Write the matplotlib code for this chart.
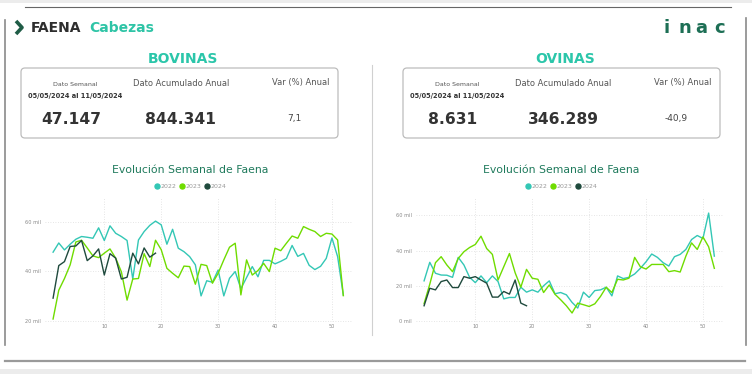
import numpy as np
import matplotlib
matplotlib.use("Agg")
import matplotlib.pyplot as plt
from matplotlib.lines import Line2D
from matplotlib.patches import FancyBboxPatch, Rectangle

# weekly slaughter (thousands of heads)
bov_2022 = [47.7, 51.4, 48.6, 50.9, 52.9, 54.0, 53.7, 53.3, 57.5, 52.4, 58.3, 55.3, 54.0,
            52.4, 36.9, 52.6, 56.0, 58.5, 60.2, 58.7, 50.9, 56.9, 49.3, 47.9, 45.9, 42.6,
            30.1, 36.2, 35.6, 40.5, 30.1, 37.2, 39.9, 33.0, 37.5, 41.9, 37.8, 44.4, 44.4,
            43.0, 44.0, 45.2, 50.4, 46.0, 47.2, 42.4, 40.7, 42.0, 45.2, 53.4, 45.9, 30.4]
bov_2023 = [20.8, 32.4, 37.1, 42.6, 51.8, 52.5, 49.4, 46.2, 45.5, 47.3, 49.0, 45.3, 39.8,
            28.4, 36.9, 37.1, 47.1, 41.9, 52.5, 48.7, 41.2, 39.2, 37.4, 42.1, 41.9, 34.8,
            42.8, 42.3, 35.2, 39.2, 44.6, 49.7, 51.3, 30.5, 44.6, 38.5, 40.3, 43.2, 39.9,
            49.3, 48.3, 51.3, 54.2, 53.3, 58.0, 56.9, 56.0, 54.0, 55.3, 55.0, 52.6, 30.2]
bov_2024 = [29.2, 42.3, 43.9, 50.0, 50.2, 52.4, 44.3, 46.2, 49.0, 38.5, 47.1, 45.3, 36.9,
            37.6, 47.3, 43.0, 49.4, 45.7, 47.3]

ovi_2022 = [22.9, 33.4, 27.2, 26.2, 26.1, 24.9, 36.2, 31.9, 24.9, 21.9, 25.7, 21.9, 25.7,
            22.5, 12.7, 13.5, 13.5, 19.3, 16.5, 17.8, 16.5, 20.1, 22.9, 15.6, 16.3, 15.0,
            10.7, 7.5, 16.5, 13.5, 17.4, 17.8, 19.3, 14.4, 25.7, 24.2, 24.9, 26.8, 30.0,
            33.7, 38.1, 36.2, 33.2, 31.3, 36.6, 37.9, 40.7, 46.3, 48.6, 46.9, 61.3, 36.9]
ovi_2023 = [10.0, 21.0, 33.2, 36.6, 31.9, 28.1, 35.6, 39.4, 41.8, 43.5, 48.2, 41.2, 37.9,
            23.4, 30.9, 38.4, 27.5, 19.3, 29.4, 24.4, 23.8, 16.3, 20.6, 15.3, 12.2, 8.8,
            4.7, 10.3, 9.4, 8.4, 9.9, 14.1, 19.3, 16.3, 23.8, 23.4, 24.4, 36.2, 30.9,
            29.6, 32.2, 32.2, 32.2, 28.1, 28.7, 27.9, 36.9, 44.4, 40.7, 47.8, 42.2, 30.0]
ovi_2024 = [8.8, 18.7, 17.8, 22.5, 23.4, 19.1, 19.1, 25.3, 24.4, 25.3, 23.4, 21.6, 13.7,
            13.7, 16.9, 15.4, 23.4, 10.3, 8.8]

years = ["2022", "2023", "2024"]
colors = ["#33c7b5", "#6fdc00", "#1f4a3d"]

kpi_bov = ["47.147", "844.341", "7,1"]
kpi_ovi = ["8.631", "346.289", "-40,9"]
periodo = "05/05/2024 al 11/05/2024"

W, H = 752, 374
fig = plt.figure(figsize=(W / 100, H / 100), dpi=100)

# background canvas in pixel coords
bg = fig.add_axes([0, 0, 1, 1])
bg.set_xlim(0, W)
bg.set_ylim(H, 0)
bg.axis("off")

bg.add_patch(Rectangle((0, 0), W, 3, color="#ececec", lw=0))
bg.add_patch(Rectangle((0, 369), W, 5, color="#ececec", lw=0))
bg.plot([25, 731], [7, 7], color="#666666", lw=0.8)
bg.plot([5, 5], [20, 345], color="#8a8a8a", lw=1.2)
bg.plot([746, 746], [18, 345], color="#8a8a8a", lw=1.2)
bg.plot([372, 372], [65, 335], color="#d0d0d0", lw=0.8)
bg.plot([5, 745], [361, 361], color="#9a9a9a", lw=1.6)

# header
bg.plot([16, 22, 16], [21, 27.5, 34], color="#1f5c46", lw=2.6, solid_capstyle="butt")
fig.text(31 / W, 1 - 27.5 / H, "FAENA", fontsize=10, fontweight="bold",
         color="#2e2e2e", va="center", ha="left")
fig.text(89 / W, 1 - 27.5 / H, "Cabezas", fontsize=10, fontweight="bold",
         color="#2ec4a6", va="center", ha="left")
for ch, xc in zip("inac", [667, 684.5, 701, 719.5]):
    fig.text(xc / W, 1 - 28 / H, ch, fontsize=13, fontweight="bold",
             color="#1d6f55", ha="center", va="center")


def kpi_block(x0, cx, name, vals):
    fig.text(cx / W, 1 - 59 / H, name, fontsize=10, fontweight="bold",
             color="#2bc6aa", ha="center", va="center")
    bg.add_patch(FancyBboxPatch((x0, 68), 317, 70, boxstyle="round,pad=0,rounding_size=4",
                                fc="white", ec="#bdbdbd", lw=0.9))
    c1, c2, c3 = x0 + 54, x0 + 160, x0 + 280
    fig.text(c1 / W, 1 - 84 / H, "Dato Semanal", fontsize=4.5, color="#555555",
             ha="center", va="center")
    fig.text(c1 / W, 1 - 96 / H, periodo, fontsize=4.8, fontweight="bold",
             color="#333333", ha="center", va="center")
    fig.text(c2 / W, 1 - 83 / H, "Dato Acumulado Anual", fontsize=6,
             color="#555555", ha="center", va="center")
    fig.text(c3 / W, 1 - 83 / H, "Var (%) Anual", fontsize=6,
             color="#555555", ha="center", va="center")
    fig.text((c1 - 4) / W, 1 - 120 / H, vals[0], fontsize=11.2, fontweight="bold",
             color="#333333", ha="center", va="center")
    fig.text(c2 / W, 1 - 120 / H, vals[1], fontsize=11.2, fontweight="bold",
             color="#333333", ha="center", va="center")
    fig.text((c3 - 7) / W, 1 - 118 / H, vals[2], fontsize=6.5,
             color="#444444", ha="center", va="center")


kpi_block(21, 183, "BOVINAS", kpi_bov)
kpi_block(403, 565, "OVINAS", kpi_ovi)


def weekly_chart(left_px, ylim, yticks, series, title_cx):
    ax = fig.add_axes([left_px / W, 1 - 322 / H, 308 / W, 125 / H])
    for vals, col in zip(series, colors):
        ax.plot(np.arange(1, len(vals) + 1), vals, color=col, lw=1.0)
    ax.set_xlim(-0.42, 53.7)
    ax.set_ylim(*ylim)
    ax.set_xticks([10, 20, 30, 40, 50])
    ax.set_yticks(yticks)
    ax.set_yticklabels([f"{t} mil" for t in yticks])
    ax.tick_params(length=0, labelsize=3.6, labelcolor="#888888")
    ax.tick_params(axis="x", pad=1.2)
    ax.tick_params(axis="y", pad=3.2)
    ax.grid(True, color="#dddddd", lw=0.6, ls=(0, (1, 2)))
    for s in ax.spines.values():
        s.set_visible(False)
    ax.set_facecolor("none")
    fig.text(title_cx / W, 1 - 170.5 / H, "Evolución Semanal de Faena", fontsize=7.8,
             color="#1f7a5c", ha="center", va="center")
    handles = [Line2D([], [], marker="o", ls="none", color=c, markersize=3.6) for c in colors]
    fig.legend(handles, years, loc="center", bbox_to_anchor=(title_cx / W, 1 - 186 / H),
               ncol=3, frameon=False, fontsize=4.5, labelcolor="#999999",
               handletextpad=0.05, columnspacing=0.4, handlelength=1.0, borderpad=0)
    return ax


weekly_chart(45, (19.6, 69.9), [20, 40, 60], [bov_2022, bov_2023, bov_2024], 190)
weekly_chart(416, (-0.4, 70.4), [0, 20, 40, 60], [ovi_2022, ovi_2023, ovi_2024], 561)

fig.savefig("out.png", dpi=100, facecolor="white")
